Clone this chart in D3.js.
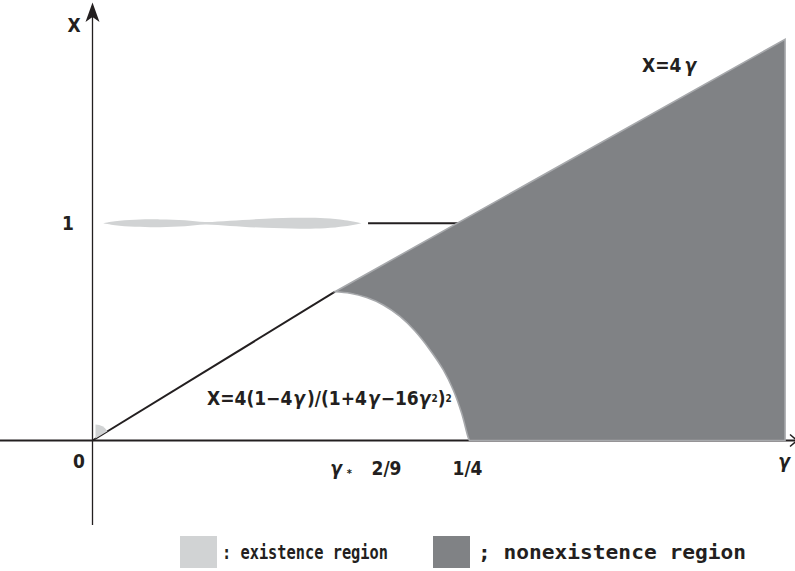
<!DOCTYPE html>
<html>
<head>
<meta charset="utf-8">
<script src="https://cdn.jsdelivr.net/npm/d3@7"></script>
<style>
  body { margin: 0; background: #fff; }
  svg { display: block; }
  .lbl { font-family: 'Liberation Sans Narrow', 'DejaVu Sans Condensed', sans-serif; font-weight: bold; font-size: 19px; fill: #231f20; }
  .g { font-style: italic; }
  .leg { font-family: 'DejaVu Sans Mono', monospace; font-weight: bold; font-size: 20px; fill: #231f20; }
</style>
</head>
<body>
<div id="chart"></div>
<script>
// nonexistence boundary X = 4(1-4g)/(1+4g-16g^2)^2 (cusp -> axis)
const curveGamma = [0.1617, 0.1717, 0.1828, 0.1939, 0.2050, 0.2150, 0.2250, 0.2339, 0.2405, 0.2461, 0.2503, 0.2513];
const curveX     = [0.685,  0.678,  0.658,  0.624,  0.571,  0.504,  0.417,  0.325,  0.2325, 0.125,  0.0175, 0];

// upper boundary X = 4g (from the cusp to the right edge)
const lineGamma = [0.1617, 0.4617];
const lineX     = [0.685,  1.847];

// black segments
const lowerGamma = [0, 0.1617];
const lowerX     = [0, 0.685];
const levelGamma = [0.1837, 0.25];
const levelX     = [1, 1];

// thin existence region near X = 1
const leafGamma = [0.007, 0.015, 0.0283, 0.045, 0.0617, 0.075, 0.0917, 0.115, 0.1383, 0.155, 0.1683, 0.1797];
const leafUpper = [1.000, 1.009, 1.016, 1.018, 1.014, 1.006, 1.012, 1.021, 1.025, 1.023, 1.014, 1.000];
const leafLower = [1.000, 0.991, 0.984, 0.982, 0.986, 0.994, 0.988, 0.979, 0.975, 0.977, 0.986, 1.000];

// tick labels
const gammaTickPos = [0.1657, 0.196, 0.25];
const gammaTickLabels = ['γ', '2/9', '1/4'];
const xTickPos = [0, 1];
const xTickLabels = ['0', '1'];

// legend
const legendLabels = [': existence region', '; nonexistence region'];

const W = 795, H = 571;
const dark = '#808285', light = '#d1d3d4', ink = '#231f20';

const svg = d3.select('#chart').append('svg')
    .attr('width', W)
    .attr('height', H);

const x = d3.scaleLinear().domain([0, 0.25]).range([92.5, 467.5]);
const y = d3.scaleLinear().domain([0, 1]).range([440.5, 223.3]);

// axes
svg.append('line')
    .attr('x1', 0).attr('x2', 796)
    .attr('y1', y(0)).attr('y2', y(0))
    .attr('stroke', ink).attr('stroke-width', 2);
svg.append('path')
    .attr('d', `M${790},${y(0) - 6}L${797},${y(0)}L${790},${y(0) + 6}`)
    .attr('fill', 'none').attr('stroke', ink).attr('stroke-width', 1.5);

svg.append('line')
    .attr('x1', x(0)).attr('x2', x(0))
    .attr('y1', 525).attr('y2', 16)
    .attr('stroke', ink).attr('stroke-width', 1.3);
svg.append('path')
    .attr('d', `M${x(0)},2.5L${x(0) + 7},22L${x(0)},17L${x(0) - 7},22Z`)
    .attr('fill', ink);

// black lines
const line = d3.line().x(d => x(d[0])).y(d => y(d[1]));
svg.append('path')
    .attr('d', line(d3.zip(lowerGamma, lowerX)))
    .attr('stroke', ink).attr('stroke-width', 2).attr('fill', 'none');
svg.append('path')
    .attr('d', line(d3.zip(levelGamma, levelX)))
    .attr('stroke', ink).attr('stroke-width', 2).attr('fill', 'none');

// existence region (light)
const leafArea = d3.area()
    .x(d => x(d[0])).y0(d => y(d[2])).y1(d => y(d[1]))
    .curve(d3.curveCatmullRom);
svg.append('path')
    .attr('d', leafArea(leafGamma.map((g, i) => [g, leafUpper[i], leafLower[i]])))
    .attr('fill', light);

// small existence sector at the origin
const lineAngle = Math.atan2(y(0) - y(lowerX[1]), x(lowerGamma[1]) - x(0));
svg.append('path')
    .attr('transform', `translate(${x(0) + 3},${y(0) - 2})`)
    .attr('d', d3.arc()({ innerRadius: 0, outerRadius: 14, startAngle: 0, endAngle: Math.PI / 2 - lineAngle }))
    .attr('fill', light);

// nonexistence region (dark)
const curvePts = d3.zip(curveGamma, curveX).reverse();
const curvePath = d3.line().x(d => x(d[0])).y(d => y(d[1])).curve(d3.curveCatmullRom)(curvePts);
const corner = [lineGamma[1], lineX[1]];
svg.append('path')
    .attr('d', curvePath + `L${x(corner[0])},${y(corner[1])}L${x(corner[0])},${y(0)}Z`)
    .attr('fill', dark)
    .attr('stroke', '#a7a9ac')
    .attr('stroke-width', 1.6)
    .attr('stroke-linejoin', 'miter');

// labels
svg.append('text').attr('class', 'lbl')
    .attr('x', 74).attr('y', 32).attr('text-anchor', 'middle').text('X');
svg.append('text').attr('class', 'lbl g')
    .attr('x', 784).attr('y', 468).attr('text-anchor', 'middle').text('γ');

svg.selectAll('.xtick').data(xTickPos).enter().append('text')
    .attr('class', 'lbl xtick')
    .attr('x', (d, i) => i === 0 ? 79 : 68)
    .attr('y', d => d === 0 ? y(0) + 27 : y(d) + 7)
    .attr('text-anchor', 'middle')
    .text((d, i) => xTickLabels[i]);

const gt = svg.selectAll('.gtick').data(gammaTickPos).enter().append('text')
    .attr('class', 'lbl gtick')
    .attr('x', d => x(d))
    .attr('y', y(0) + 34)
    .attr('text-anchor', 'middle');
gt.append('tspan')
    .attr('class', (d, i) => i === 0 ? 'g' : null)
    .text((d, i) => gammaTickLabels[i]);
gt.filter((d, i) => i === 0).append('tspan')
    .attr('font-size', 11).attr('dx', 5).attr('dy', 2).text('*');

const f = svg.append('text').attr('class', 'lbl')
    .attr('x', 207).attr('y', 405);
f.append('tspan').text('X=4(1−4');
f.append('tspan').attr('class', 'g').attr('dx', 1).text('γ');
f.append('tspan').attr('dx', 2).text(')/(1+4');
f.append('tspan').attr('class', 'g').attr('dx', 1).text('γ');
f.append('tspan').attr('dx', 1).text('−16');
f.append('tspan').attr('class', 'g').text('γ');
f.append('tspan').attr('font-size', 10).attr('dx', 1).attr('dy', -3).text('2');
f.append('tspan').attr('dy', 3).text(')');
f.append('tspan').attr('font-size', 10).attr('dy', -3).text('2');

const l4 = svg.append('text').attr('class', 'lbl')
    .attr('x', 642).attr('y', 72);
l4.append('tspan').text('X=4');
l4.append('tspan').attr('class', 'g').attr('dx', 3).text('γ');

// legend
const legX = [180, 433];
const legW = [166, 268];
const legendFill = [light, dark];
const leg = svg.selectAll('.legitem').data(legendLabels).enter().append('g')
    .attr('class', 'legitem')
    .attr('transform', (d, i) => `translate(${legX[i]},536)`);
leg.append('rect')
    .attr('width', 37).attr('height', 32)
    .attr('fill', (d, i) => legendFill[i]);
leg.append('text').attr('class', 'leg')
    .attr('x', (d, i) => i === 0 ? 42 : 45).attr('y', 23)
    .attr('textLength', (d, i) => legW[i]).attr('lengthAdjust', 'spacingAndGlyphs')
    .text(d => d);
</script>
</body>
</html>
